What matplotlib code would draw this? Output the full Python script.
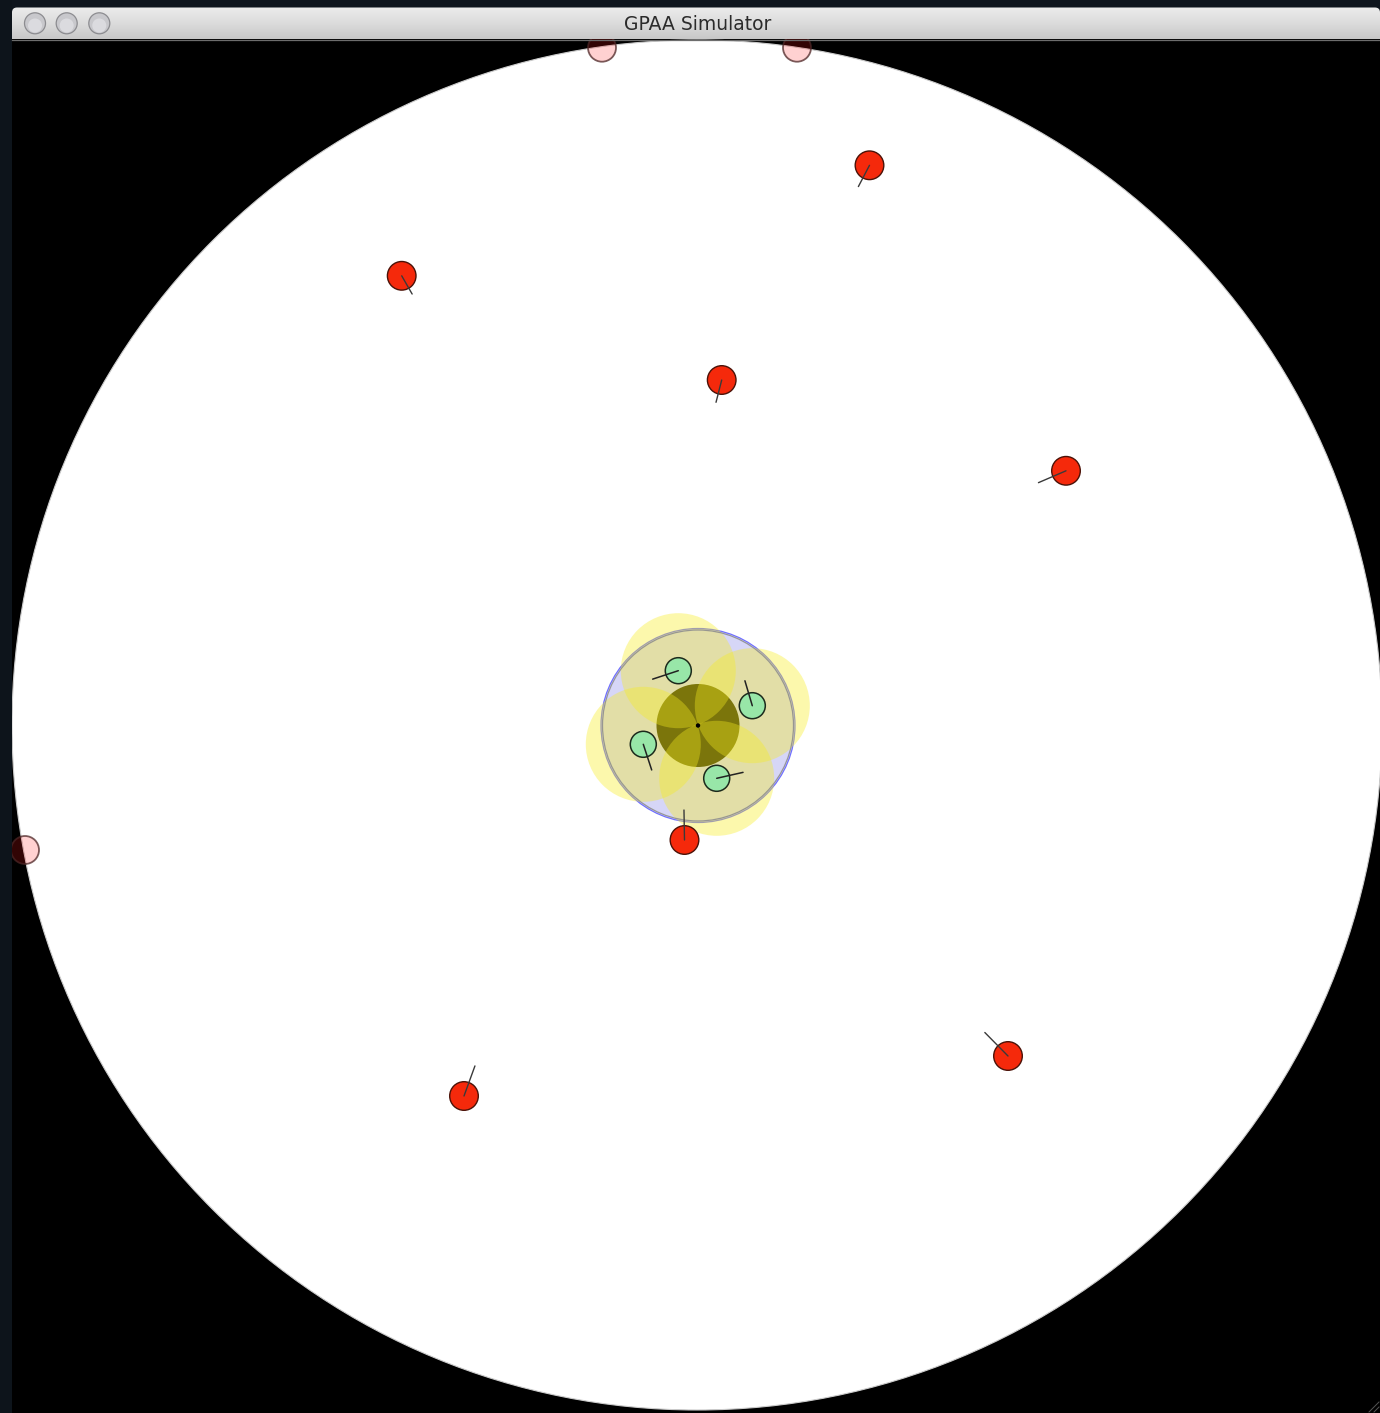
import numpy as np
import matplotlib
matplotlib.use("Agg")
import matplotlib.pyplot as plt
from matplotlib.patches import Circle, Rectangle, FancyBboxPatch
from matplotlib.colors import LinearSegmentedColormap

# ---------------- data ----------------
title = "GPAA Simulator"

# arena
arena_x, arena_y, arena_r = 697, 725, 685

# red (free) agents: position, heading angle (deg, screen coords y-down), heading length
red_x = [869.5, 401.7, 721.7, 1066.0, 684.5, 464.0, 1008.0]
red_y = [165.3, 275.8, 380.0, 470.8, 840.0, 1096.0, 1056.0]
red_heading = [117.6, 60.2, 104.3, 156.7, -91.0, -70.0, -134.6]
red_len = [24, 21, 23, 30, 30, 32, 33]

# faded (ghost) agents at arena border
ghost_x = [602, 797, 25]
ghost_y = [47.7, 47.7, 850]

# hub
hub_x, hub_y = 698, 725.5
hub_r = 97
hub_core_r = 41.5

# green (docked) agents
green_x = [678.3, 752.3, 643.3, 716.7]
green_y = [670.7, 705.7, 744.3, 778.3]
green_heading = [161.8, -106.5, 71.9, -12.7]
green_len = [27, 26, 27, 27]
sensor_r = 57.5

# ---------------- figure ----------------
W, H = 1380, 1413
fig = plt.figure(figsize=(W / 100, H / 100), dpi=100)
fig.patch.set_facecolor("#0d141b")
ax = fig.add_axes([0, 0, 1, 1])
ax.set_xlim(0, W)
ax.set_ylim(H, 0)
ax.set_aspect("auto")
ax.axis("off")

# window content area (black)
ax.add_patch(Rectangle((12, 38), W - 12, H - 38, facecolor="black", edgecolor="none", zorder=0))

# arena disk
ax.add_patch(Circle((arena_x, arena_y), arena_r, facecolor="white", edgecolor="#cccccc",
                    lw=0.8, zorder=1))

# hub background
ax.add_patch(Circle((hub_x, hub_y), hub_r, facecolor=(0.84, 0.84, 0.97), edgecolor="#7070ff",
                    lw=0.9, zorder=2))
ax.add_patch(Circle((hub_x, hub_y), hub_core_r, facecolor=(0.2, 0.19, 0.0),
                    edgecolor="none", zorder=3))

# sensor ranges of docked agents
for gx, gy in zip(green_x, green_y):
    ax.add_patch(Circle((gx, gy), sensor_r, facecolor=(0.97, 0.93, 0.12), alpha=0.37,
                        edgecolor="none", zorder=4))

# hub outline
ax.add_patch(Circle((hub_x, hub_y), hub_r - 1.5, facecolor="none", edgecolor="#8f8f8f",
                    lw=0.9, alpha=0.9, zorder=5))
ax.add_patch(Circle((hub_x, hub_y), 2.2, facecolor="black", edgecolor="none", zorder=6))

# green agents
for gx, gy, h, L in zip(green_x, green_y, green_heading, green_len):
    ax.add_patch(Circle((gx, gy), 13.0, facecolor="#98e6a8", edgecolor="#1c2a1c",
                        lw=1.1, zorder=7))
    a = np.deg2rad(h)
    ax.plot([gx, gx + L * np.cos(a)], [gy, gy + L * np.sin(a)], color="#222222",
            lw=1.1, solid_capstyle="round", zorder=8)

# red agents
for rx, ry, h, L in zip(red_x, red_y, red_heading, red_len):
    ax.add_patch(Circle((rx, ry), 14.3, facecolor="#f5290b", edgecolor="#4a1208",
                        lw=1.0, zorder=9))
    a = np.deg2rad(h)
    ax.plot([rx, rx + L * np.cos(a)], [ry, ry + L * np.sin(a)], color="#3a3a3a",
            lw=1.0, solid_capstyle="round", zorder=10)

# ghost agents
for px, py in zip(ghost_x, ghost_y):
    ax.add_patch(Circle((px, py), 14.0, facecolor=(1.0, 0.1, 0.1, 0.2),
                        edgecolor=(0.3, 0.15, 0.15, 0.75), lw=1.3, zorder=9))

# ---------------- window chrome ----------------
ax.add_patch(Rectangle((0, 0), W, 7.5, facecolor="#0e151d", edgecolor="none", zorder=20))
ax.add_patch(Rectangle((0, 0), 12, H, facecolor="#0d141b", edgecolor="none", zorder=20))
cmap = LinearSegmentedColormap.from_list("bar", ["#ececec", "#dcdcdc", "#c8c8c8"])
grad = np.linspace(0, 1, 64).reshape(-1, 1)
bar = ax.imshow(grad, cmap=cmap, extent=(12, W, 39.5, 7.5), aspect="auto", zorder=21,
                interpolation="bilinear")
clip = FancyBboxPatch((12, 7.5), W - 12, 40, boxstyle="round,pad=0,rounding_size=5",
                      transform=ax.transData, facecolor="none", edgecolor="none")
ax.add_patch(clip)
bar.set_clip_path(clip)
ax.plot([12, W], [39.5, 39.5], color="#6d6d6d", lw=0.9, zorder=22)

for bx in [35, 66.7, 99.3]:
    ax.add_patch(Circle((bx, 23.3), 10.5, facecolor="#c8c8cc", edgecolor="#8c8c90",
                        lw=0.9, zorder=23))
    ax.add_patch(Circle((bx, 25.5), 7.0, facecolor="#dedee2", edgecolor="none",
                        alpha=0.9, zorder=24))

ax.text(697.7, 24.5, title, ha="center", va="center", fontsize=13.5,
        family=["Lucida Grande", "DejaVu Sans"], color="#2b2b2b", zorder=25)

# resize grip
for d in [6, 11]:
    ax.plot([W - d, W - 1], [H - 1, H - d], color="#555555", lw=0.7, zorder=25)

fig.savefig("out.png", dpi=100, facecolor=fig.get_facecolor())
